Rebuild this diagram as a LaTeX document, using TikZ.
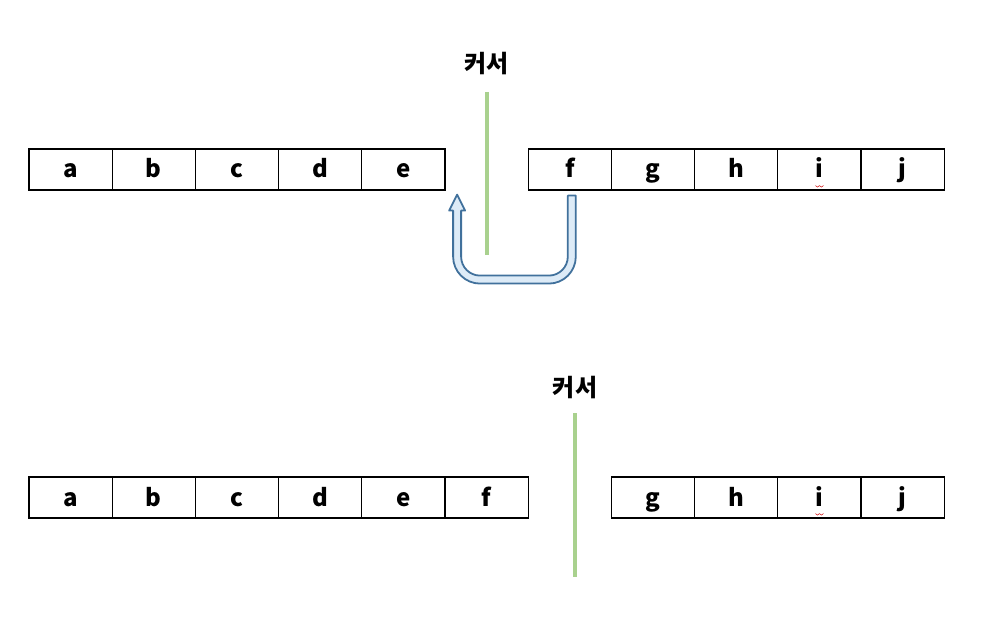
\documentclass[tikz,border=0pt]{standalone}
\usepackage{fontspec}
\setmainfont{Noto Sans CJK KR}
\usepackage{tikz}
\usetikzlibrary{positioning}

\definecolor{cursorgreen}{HTML}{A9D18E}
\definecolor{arrowblue}{HTML}{41719C}
\definecolor{arrowfill}{HTML}{DDEBF7}

\begin{document}
\begin{tikzpicture}[x=1pt,y=1pt,node distance=83.2pt,on grid,
    every node/.style={font=\fontsize{24}{26}\selectfont\bfseries},
    cell/.style={draw,line width=1.2pt,minimum width=83.2pt,minimum height=41pt,inner sep=0pt,
        text height=20pt,text depth=3pt},
    cursorline/.style={cursorgreen,line width=4pt},
    blockarrow/.style={draw=arrowblue,fill=arrowfill,line width=1.8pt,line join=round}]

    \useasboundingbox (0,0) rectangle (992,-617);

    % before the move
    \node[cell] (t_a) at (70.6,-169.5) {a};
    \node[cell] (t_b) [right=of t_a] {b};
    \node[cell] (t_c) [right=of t_b] {c};
    \node[cell] (t_d) [right=of t_c] {d};
    \node[cell] (t_e) [right=of t_d] {e};
    \node[cell] (t_f) [right=166.4pt of t_e] {f};
    \node[cell] (t_g) [right=of t_f] {g};
    \node[cell] (t_h) [right=of t_g] {h};
    \node[cell] (t_i) [right=of t_h] {i};
    \node[cell] (t_j) [right=of t_i] {j};

    \node (k_top) at (486.5,-64) {커서};
    \coordinate (k_top_a) at (486.5,-92);
    \coordinate (k_top_b) at (486.5,-255);
    \draw[cursorline] (k_top_a) -- (k_top_b);

    \coordinate (s) at ([xshift=2pt,yshift=-5pt]t_f.south);
    \coordinate (tip) at ([xshift=11.5pt,yshift=-4pt]t_e.south east);
    \draw[blockarrow] ([xshift=-4pt]s) -- ([xshift=4pt]s)
        [rounded corners=27pt] -- ([xshift=4pt,yshift=-88pt]s)
        -- ([xshift=-4pt,yshift=-89pt]tip)
        [sharp corners] -- ([xshift=-4pt,yshift=-16pt]tip)
        -- ([xshift=-8pt,yshift=-16pt]tip) -- (tip)
        -- ([xshift=8pt,yshift=-16pt]tip) -- ([xshift=4pt,yshift=-16pt]tip)
        [rounded corners=19pt] -- ([xshift=4pt,yshift=-81pt]tip)
        -- ([xshift=-4pt,yshift=-80pt]s)
        [sharp corners] -- cycle;

    % spelling mark under i
    \draw[red!80!black,line width=0.5pt] ([xshift=-4pt,yshift=5pt]t_i.south)
        -- ++(2,-1.5) -- ++(2,1.5) -- ++(2,-1.5) -- ++(2,1.5);

    % after the move
    \node[cell] (b_a) at (70.6,-497.5) {a};
    \node[cell] (b_b) [right=of b_a] {b};
    \node[cell] (b_c) [right=of b_b] {c};
    \node[cell] (b_d) [right=of b_c] {d};
    \node[cell] (b_e) [right=of b_d] {e};
    \node[cell] (b_f) [right=of b_e] {f};
    \node[cell] (b_g) [right=166.4pt of b_f] {g};
    \node[cell] (b_h) [right=of b_g] {h};
    \node[cell] (b_i) [right=of b_h] {i};
    \node[cell] (b_j) [right=of b_i] {j};

    \node (k_bot) at (575,-388) {커서};
    \coordinate (k_bot_a) at (575,-413);
    \coordinate (k_bot_b) at (575,-577);
    \draw[cursorline] (k_bot_a) -- (k_bot_b);

    \draw[red!80!black,line width=0.5pt] ([xshift=-4pt,yshift=5pt]b_i.south)
        -- ++(2,-1.5) -- ++(2,1.5) -- ++(2,-1.5) -- ++(2,1.5);
\end{tikzpicture}
\end{document}
